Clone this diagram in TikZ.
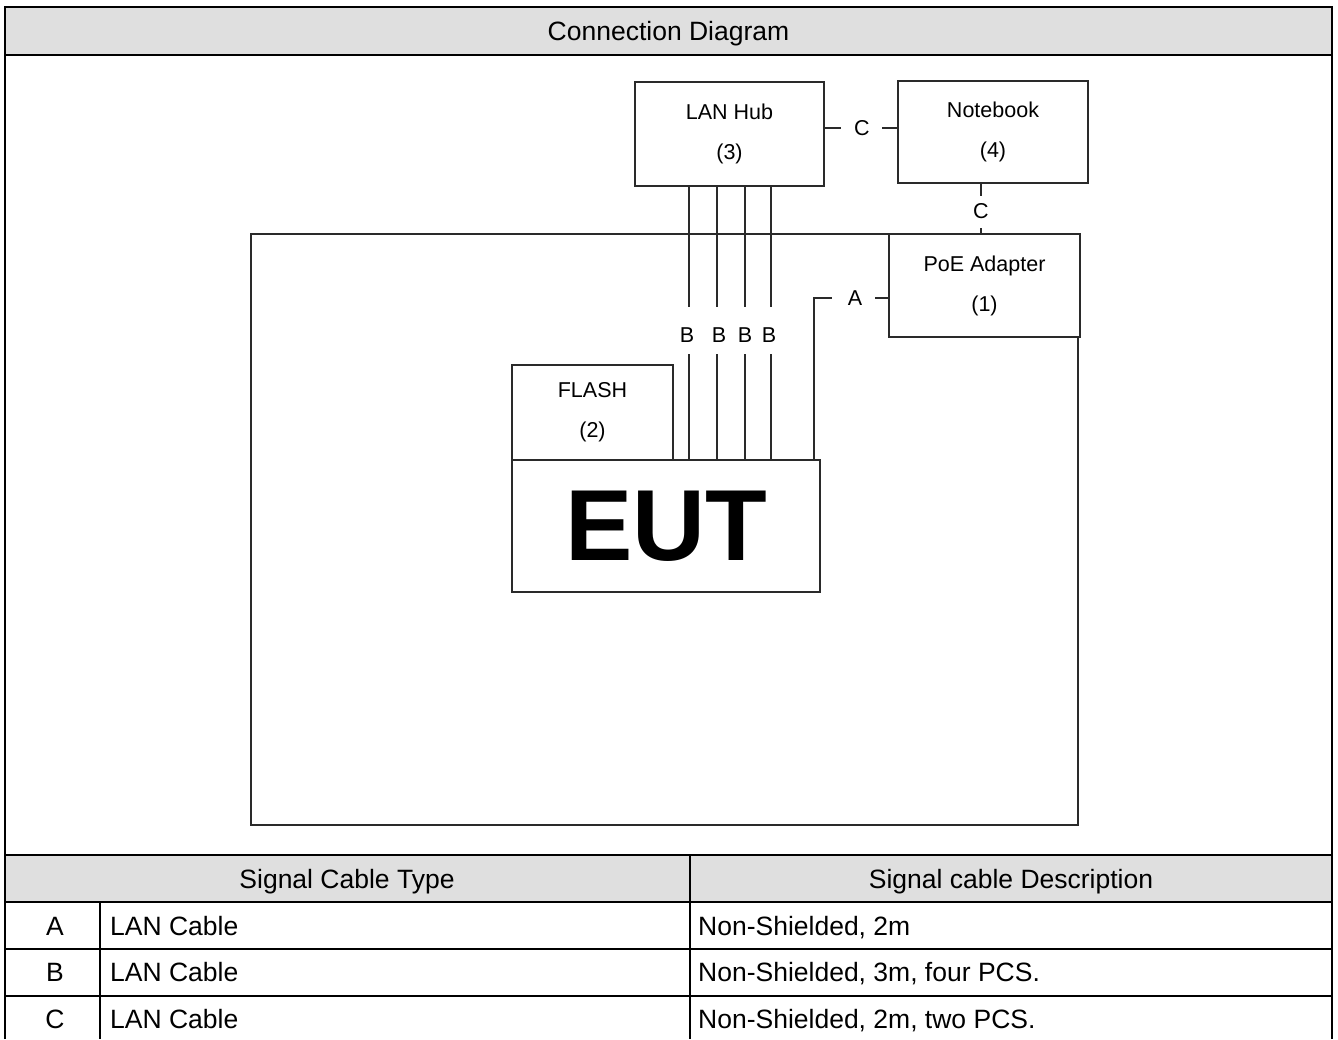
\documentclass[tikz,border=0pt]{standalone}
\usepackage{fontspec}
\setmainfont{Liberation Sans}
\definecolor{hdr}{HTML}{DFDFDF}
\definecolor{ln}{HTML}{2A2A2A}
\begin{document}
\begin{tikzpicture}[x=1pt,y=-1pt,
  box/.style={draw=ln,line width=1.3pt,fill=white,inner sep=0pt,align=center,font=\fontsize{21.5}{40}\selectfont},
  lbl/.style={inner sep=0pt,font=\fontsize{21.5}{24}\selectfont},
  wire/.style={draw=ln,line width=1.3pt},
  tline/.style={draw=black,line width=2pt},
  ttext/.style={inner sep=0pt,anchor=base,font=\fontsize{26.5}{30}\selectfont},
  ttextl/.style={ttext,anchor=base west}]
\useasboundingbox (0,0) rectangle (1338,1039);
% table backgrounds
\fill[hdr] (5,7) rectangle (1332,55);
\fill[hdr] (5,855) rectangle (1332,902);
% table lines
\draw[tline] (5,1039) -- (5,7) -- (1332,7) -- (1332,1039);
\draw[tline] (5,55) -- (1332,55);
\draw[tline] (5,855) -- (1332,855);
\draw[tline] (5,902) -- (1332,902);
\draw[tline] (5,949) -- (1332,949);
\draw[tline] (5,996) -- (1332,996);
\draw[tline] (690,855) -- (690,1039);
\draw[tline] (100,902) -- (100,1039);
% table texts
\node[ttext] (title) at (668.5,40.5) {Connection Diagram};
\node[ttext] (h1) at (347,888.5) {Signal Cable Type};
\node[ttext] (h2) at (1011,888.5) {Signal cable Description};
\node[ttext] (ra) at (55,935.5) {A};
\node[ttext] (rb) at (55,981.5) {B};
\node[ttext] (rc) at (55,1028.5) {C};
\node[ttextl] (ta) at (110,935.5) {LAN Cable};
\node[ttextl] (tb) at (110,981.5) {LAN Cable};
\node[ttextl] (tc) at (110,1028.5) {LAN Cable};
\node[ttextl] (da) at (698,935.5) {Non-Shielded, 2m};
\node[ttextl] (db) at (698,981.5) {Non-Shielded, 3m, four PCS.};
\node[ttextl] (dc) at (698,1028.5) {Non-Shielded, 2m, two PCS.};
% diagram
\draw[wire] (251,234) rectangle (1078,825);
\node[box,minimum width=189pt,minimum height=104pt] (hub) at (729.5,134) {LAN Hub\\(3)};
\node[box,minimum width=190pt,minimum height=102pt] (nb) at (993,132) {Notebook\\(4)};
\node[box,minimum width=191pt,minimum height=103pt] (poe) at (984.5,285.5) {PoE Adapter\\(1)};
\node[box,minimum width=161pt,minimum height=95pt] (flash) at (592.5,412.5) {FLASH\\(2)};
\node[box,minimum width=308pt,minimum height=132pt,font=\fontsize{101}{110}\selectfont\bfseries] (eut) at (666,526) {EUT};
% C between hub and notebook
\node[lbl] (ch) at (862,128) {C};
\draw[wire] (hub.east |- ch) -- ++(16,0);
\draw[wire] (nb.west |- ch) -- ++(-15,0);
% C between notebook and PoE
\node[lbl] (cv) at (981,211) {C};
\draw[wire] (nb.south -| cv) -- ++(0,12);
\draw[wire] (poe.north -| cv) -- ++(0,-5);
% A
\node[lbl] (la) at (855,298) {A};
\coordinate (abend) at (814,298);
\draw[wire] (poe.west |- la) -- ++(-13,0);
\draw[wire] (eut.north -| abend) -- (abend) -- ++(18,0);
% B lines
\foreach \i/\xl/\xx in {1/689/687,2/717/719,3/745/745,4/771/769}{
  \node[lbl] (b\i) at (\xx,335) {B};
  \coordinate (bu\i) at (\xl,307);
  \coordinate (bd\i) at (\xl,354);
  \draw[wire] (hub.south -| bu\i) -- (bu\i);
  \draw[wire] (eut.north -| bd\i) -- (bd\i);
}
\end{tikzpicture}
\end{document}
